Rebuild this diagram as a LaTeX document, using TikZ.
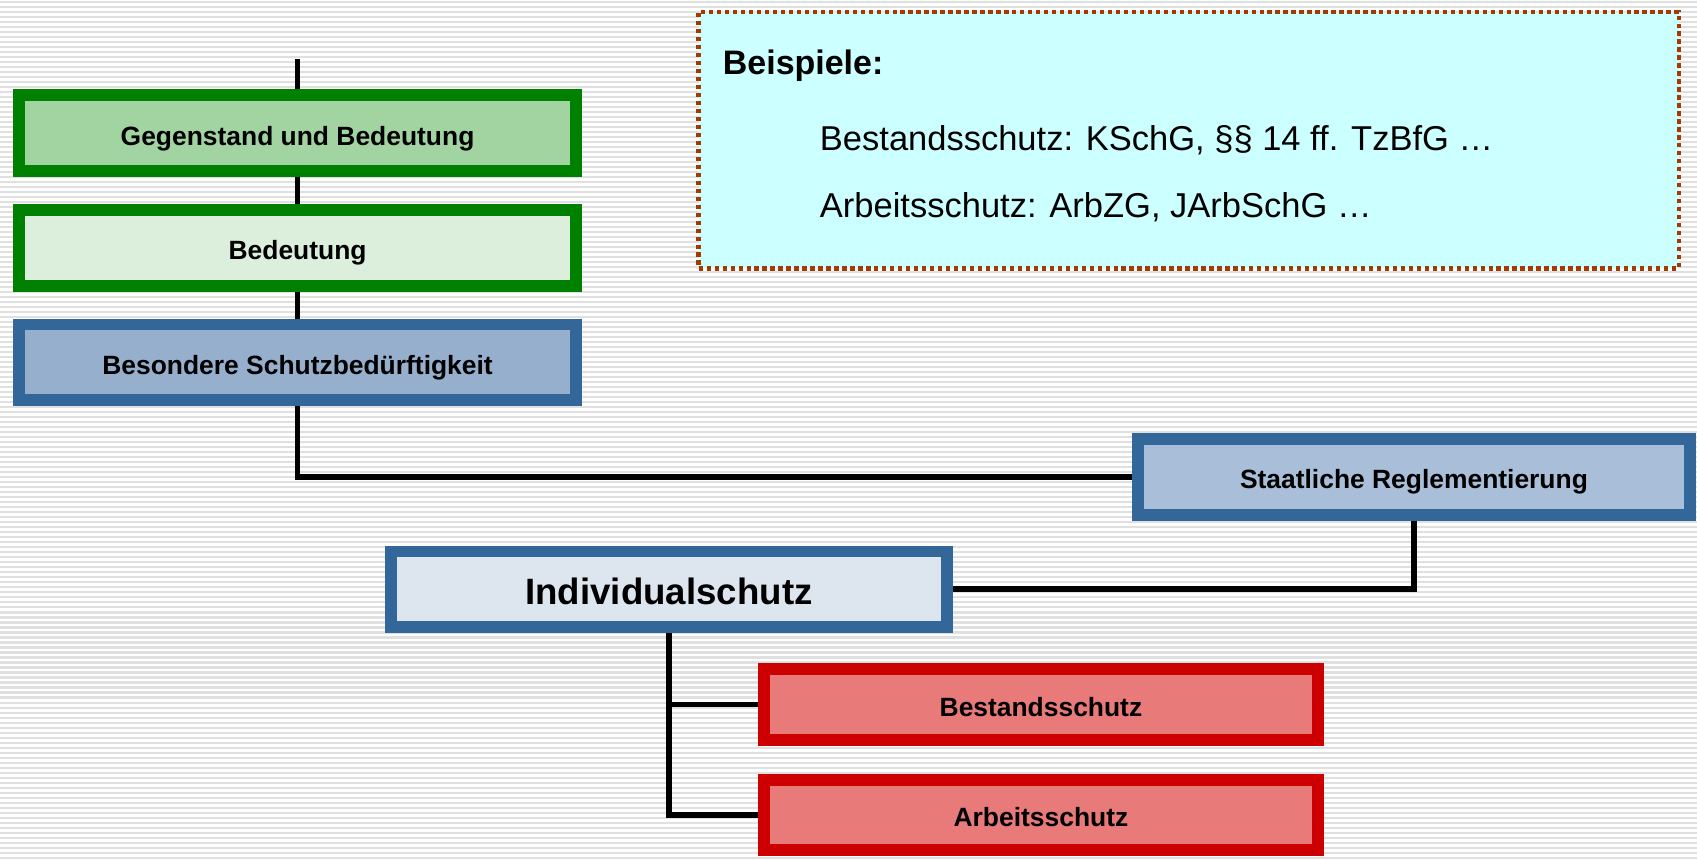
\documentclass[tikz,border=0pt]{standalone}
\usepackage{fontspec}
\setmainfont{Liberation Sans}
\usetikzlibrary{backgrounds}

\definecolor{boxgreen}{HTML}{008000}
\definecolor{boxblue}{HTML}{336699}
\definecolor{boxred}{HTML}{CC0000}
\definecolor{fillgreen}{HTML}{A2D4A2}
\definecolor{fillgreenlight}{HTML}{DCEEDC}
\definecolor{fillblue}{HTML}{96AFCC}
\definecolor{fillbluemid}{HTML}{A9BFD9}
\definecolor{fillbluelight}{HTML}{DDE5EF}
\definecolor{fillred}{HTML}{E87A7A}
\definecolor{callfill}{HTML}{CCFFFF}
\definecolor{callborder}{HTML}{A33A00}
\definecolor{stripe}{HTML}{E0E0E0}

\tikzset{
  tbox/.style={draw, line width=11pt, inner sep=0pt, outer sep=0pt,
    minimum height=70pt, text height=22pt, text depth=0pt,
    font=\fontsize{24.5}{29}\selectfont\bfseries},
  gbox/.style={tbox, draw=boxgreen, fill=fillgreen},
  bbox/.style={tbox, draw=boxblue, fill=fillblue},
  rbox/.style={tbox, draw=boxred, fill=fillred},
  conn/.style={line width=5.3pt, black},
  calltext/.style={anchor=base west, font=\fontsize{32}{38}\selectfont}
}

\begin{document}
\begin{tikzpicture}[x=1pt,y=-1pt]
  \useasboundingbox (0,0) rectangle (1574,797);

  % striped background
  \begin{pgfonlayer}{background}
    \fill[white] (0,0) rectangle (1574,797);
    \foreach \y in {2,6.64,...,797}
      \draw[stripe, line width=1.9pt] (0,\y) -- (1574,\y);
  \end{pgfonlayer}

  % left column
  \node[gbox, minimum width=517pt] (gegen) at (276,123.5) {Gegenstand und Bedeutung};
  \node[gbox, fill=fillgreenlight, minimum width=517pt] (bedeut) at (276,230) {Bedeutung};
  \node[bbox, minimum width=517pt] (besond) at (276,336) {Besondere Schutzbed\"urftigkeit};

  % right and lower part
  \node[bbox, fill=fillbluemid, minimum width=512pt] (staat) at (1311.5,442.5) {Staatliche Reglementierung};
  \node[bbox, fill=fillbluelight, minimum width=516pt, text height=29pt,
        font=\fontsize{34}{40}\selectfont\bfseries] (indiv) at (620.5,546.5) {Individualschutz};
  \node[rbox, minimum width=514pt, minimum height=66pt] (bestand) at (965.5,653.5) {Bestandsschutz};
  \node[rbox, minimum width=514pt, minimum height=65pt] (arbeit) at (965.5,756) {Arbeitsschutz};

  % callout
  \node[draw=callborder, fill=callfill, line width=4pt,
        dash pattern=on 4pt off 3.4pt, minimum width=909pt, minimum height=238pt,
        inner sep=0pt] (beisp) at (1102.5,130) {};
  \node[calltext, font=\fontsize{31.5}{38}\selectfont\bfseries] (beisptitle) at (667,69) {Beispiele:};
  \node[calltext] (beispone) at (757,139.5) {Bestandsschutz: KSchG, \S\S\ 14 ff. TzBfG \dots};
  \node[calltext] (beisptwo) at (757,201.5) {Arbeitsschutz: ArbZG, JArbSchG \dots};

  % connectors
  \coordinate (top) at (276,55);
  \begin{pgfonlayer}{background}
    \draw[conn] (top) |- (staat.west);
    \draw[conn] (staat.south) |- (indiv.east);
    \draw[conn] (indiv.south) |- (arbeit.west);
    \draw[conn] (indiv.south |- bestand.west) -- (bestand.west);
  \end{pgfonlayer}
\end{tikzpicture}
\end{document}
